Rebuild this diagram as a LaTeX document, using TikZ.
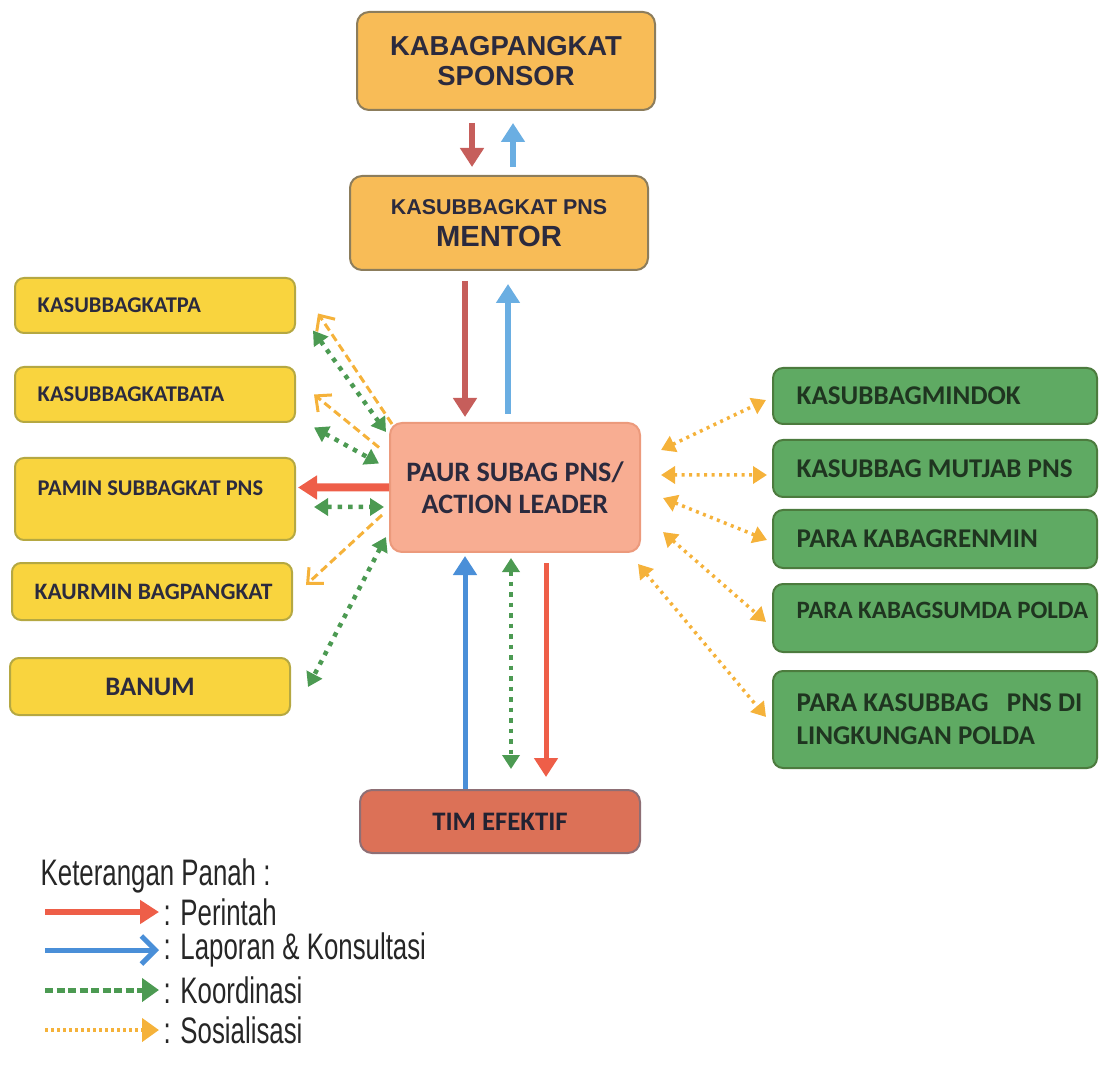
\documentclass[tikz,border=0pt]{standalone}
\usepackage{fontspec}
\newfontfamily\boxfont{Carlito}
\newfontfamily\headfont{Liberation Sans}
\newfontfamily\legfont[FakeStretch=0.7]{Liberation Sans}
\usetikzlibrary{calc,arrows.meta}

\definecolor{sponfill}{HTML}{F8BC57}
\definecolor{sponline}{HTML}{8C7D5C}
\definecolor{leftfill}{HTML}{F9D43E}
\definecolor{leftline}{HTML}{B5A842}
\definecolor{rightfill}{HTML}{5FAA63}
\definecolor{rightline}{HTML}{4C7B3E}
\definecolor{paurfill}{HTML}{F8AD92}
\definecolor{paurline}{HTML}{EC9A7C}
\definecolor{timfill}{HTML}{DC7157}
\definecolor{timline}{HTML}{8E6F75}
\definecolor{redarr}{HTML}{EE5E48}
\definecolor{redtop}{HTML}{C65E5B}
\definecolor{bluearr}{HTML}{4A8FD8}
\definecolor{bluetop}{HTML}{6AAEE2}
\definecolor{greenarr}{HTML}{4C9A52}
\definecolor{orangearr}{HTML}{F5B23A}
\definecolor{txtdark}{HTML}{2B2A3E}
\definecolor{txtgreen}{HTML}{1F3520}

\begin{document}
\begin{tikzpicture}[x=0.1mm, y=-0.1mm,
  box/.style={draw, rounded corners=1.2mm, line width=0.2mm, inner sep=0pt, align=center},
  topbox/.style={box, fill=sponfill, draw=sponline, minimum width=29.8mm, text=txtdark,
    font=\headfont\bfseries},
  leftbox/.style={box, fill=leftfill, draw=leftline, rounded corners=0.9mm, minimum width=28mm},
  lefttext/.style={anchor=west, xshift=2.3mm, inner sep=0pt, align=left, text=txtdark,
    font=\boxfont\bfseries\fontsize{6.4}{9}\selectfont},
  rightbox/.style={box, fill=rightfill, draw=rightline, rounded corners=1mm, minimum width=32.4mm},
  righttext/.style={anchor=west, xshift=2.4mm, inner sep=0pt, align=left, text=txtgreen,
    font=\boxfont\bfseries\fontsize{7.7}{9.4}\selectfont},
  perintah/.style={draw=redarr, line width=0.6mm, -{Triangle[length=1.9mm,width=2.3mm]}},
  laporan/.style={draw=bluearr, line width=0.6mm, -{Triangle[length=1.9mm,width=2.3mm]}},
  koord/.style={draw=greenarr, line width=0.45mm, dash pattern=on 0.45mm off 0.6mm,
    {Triangle[length=1.4mm,width=1.7mm]}-{Triangle[length=1.4mm,width=1.7mm]}},
  sosial/.style={draw=orangearr, line width=0.35mm, dash pattern=on 0.3mm off 0.45mm,
    {Triangle[length=1.4mm,width=1.7mm]}-{Triangle[length=1.4mm,width=1.7mm]}},
  sosdash/.style={draw=orangearr, line width=0.3mm, dash pattern=on 0.8mm off 0.45mm,
    -{Straight Barb[length=1.2mm,width=2.2mm]}},
  legtext/.style={anchor=west, inner sep=0pt, text=black!85, font=\legfont\fontsize{10.5}{12}\selectfont}]

  \useasboundingbox (0,0) rectangle (1100,1071);

  % sponsor and mentor
  \node[topbox, minimum height=9.8mm, font=\headfont\bfseries\fontsize{7.8}{8.4}\selectfont]
    (spon) at (506,61) {KABAGPANGKAT\\SPONSOR};
  \node[topbox, minimum height=9.4mm] (ment) at (499,223)
    {\fontsize{6.1}{8}\selectfont KASUBBAGKAT PNS\\[-2.8pt]\fontsize{8.3}{9}\selectfont MENTOR};

  % action leader and team
  \node[box, fill=paurfill, draw=paurline, minimum width=25mm, minimum height=12.9mm,
    text=txtdark, font=\boxfont\bfseries\fontsize{8}{9.1}\selectfont]
    (paur) at (515,487.5) {PAUR SUBAG PNS/\\ACTION LEADER};
  \node[box, fill=timfill, draw=timline, minimum width=28mm, minimum height=6.3mm,
    text=txtdark!80!black, font=\boxfont\bfseries\fontsize{7.6}{9}\selectfont]
    (tim) at (500,821.5) {TIM EFEKTIF};

  % left column
  \node[leftbox, minimum height=5.5mm, label={[lefttext]west:KASUBBAGKATPA}] (katpa) at (155,305.5) {};
  \node[leftbox, minimum height=5.5mm, label={[lefttext]west:KASUBBAGKATBATA}] (katbata) at (155,394.5) {};
  \node[leftbox, minimum height=8.2mm, label={[lefttext, yshift=1.1mm]west:PAMIN SUBBAGKAT PNS}]
    (pamin) at (155,499) {};
  \node[leftbox, minimum height=5.7mm,
    label={[lefttext, font=\boxfont\bfseries\fontsize{6.7}{9}\selectfont]west:KAURMIN BAGPANGKAT}]
    (kaurmin) at (152,591.5) {};
  \node[leftbox, minimum height=5.7mm, text=txtdark, font=\boxfont\bfseries\fontsize{7.6}{9}\selectfont]
    (banum) at (150,686.5) {BANUM};

  % right column
  \node[rightbox, minimum height=5.6mm, label={[righttext]west:KASUBBAGMINDOK}] (mindok) at (935,396) {};
  \node[rightbox, minimum height=5.7mm, label={[righttext]west:KASUBBAG MUTJAB PNS}] (mutjab) at (935,468.5) {};
  \node[rightbox, minimum height=5.8mm, label={[righttext]west:PARA KABAGRENMIN}] (renmin) at (935,539) {};
  \node[rightbox, minimum height=6.8mm,
    label={[righttext, yshift=0.8mm, font=\boxfont\bfseries\fontsize{7.1}{9}\selectfont]west:PARA KABAGSUMDA POLDA}]
    (sumda) at (935,618) {};
  \node[rightbox, minimum height=9.7mm,
    label={[righttext]west:{PARA KASUBBAG\ \ \ PNS DI\\LINGKUNGAN POLDA}}] (lingk) at (935,719.5) {};

  % vertical chain
  \draw[perintah, draw=redtop, line width=0.55mm] ($(spon.south)+(-34,12)$) -- ($(ment.north)+(-27,-8)$);
  \draw[laporan, draw=bluetop, line width=0.55mm] ($(ment.north)+(14,-8)$) -- ($(spon.south)+(7,12)$);
  \draw[perintah, draw=redtop, line width=0.55mm] ($(ment.south)+(-34,10)$) -- ($(paur.north)+(-50,-5)$);
  \draw[laporan, draw=bluetop, line width=0.55mm] ($(paur.north)+(-7,-8)$) -- ($(ment.south)+(9,13)$);

  % action leader <-> team
  \draw[laporan, line width=0.5mm] ($(tim.north)+(-35,0)$) -- ($(paur.south)+(-50,3)$);
  \draw[koord] ($(paur.south)+(-4,5)$) -- ($(tim.north)+(11,-20)$);
  \draw[perintah, line width=0.5mm] ($(paur.south)+(31,10)$) -- ($(tim.north)+(46,-12)$);

  % left side
  \draw[sosdash] ($(paur.north west)+(3,2)$) -- ($(katpa.east)+(22,8)$);
  \draw[koord] ($(katpa.east)+(17,25)$) -- ($(paur.north west)+(-3,10)$);
  \draw[sosdash] ($(paur.west)+(-10,-40)$) -- ($(katbata.east)+(18,0)$);
  \draw[koord] ($(katbata.east)+(18,33)$) -- ($(paur.west)+(-10,-24)$);
  \draw[perintah, line width=0.8mm] (paur.west) -- ($(pamin.east)+(2,-11.5)$);
  \draw[koord] ($(pamin.east)+(18,8)$) -- ($(paur.west)+(-5,19.5)$);
  \draw[sosdash] ($(paur.west)+(-7,27.5)$) -- ($(kaurmin.east)+(13,-6.5)$);
  \draw[koord] ($(paur.west)+(-3,49.5)$) -- ($(banum.east)+(17,0.5)$);

  % right side
  \draw[sosial] ($(paur.east)+(20,-37.5)$) -- ($(mindok.west)+(-6,4)$);
  \draw[sosial] ($(paur.east)+(20,-12.5)$) -- ($(mutjab.west)+(-5,6.5)$);
  \draw[sosial] ($(paur.east)+(22,10.5)$) -- ($(renmin.west)+(-5,1)$);
  \draw[sosial] ($(paur.east)+(22,44.5)$) -- ($(sumda.west)+(-6,4)$);
  \draw[sosial] ($(paur.south east)+(-3,11)$) -- ($(lingk.west)+(-6,-2.5)$);

  % ---- legend ----
  \node[legtext] (leg) at (40,876) {Keterangan Panah :};
  \node[legtext] (lperintah) at (163,912) {: Perintah};
  \node[legtext] (llaporan) at (163,950) {: Laporan \& Konsultasi};
  \node[legtext] (lkoord) at (163,990) {: Koordinasi};
  \node[legtext] (lsosial) at (163,1030) {: Sosialisasi};
  \draw[perintah, line width=0.55mm] ($(lperintah.west)+(-118,0)$) -- ($(lperintah.west)+(-4,0)$);
  \draw[draw=bluearr, line width=0.5mm, -{Straight Barb[length=1.4mm,width=2.8mm]}]
    ($(llaporan.west)+(-118,0)$) -- ($(llaporan.west)+(-4,0)$);
  \draw[draw=greenarr, line width=0.5mm, dash pattern=on 0.8mm off 0.35mm,
    -{Triangle[length=1.7mm,width=2.3mm]}] ($(lkoord.west)+(-118,0)$) -- ($(lkoord.west)+(-4,0)$);
  \draw[draw=orangearr, line width=0.45mm, dash pattern=on 0.3mm off 0.3mm,
    -{Triangle[length=1.7mm,width=2.3mm]}] ($(lsosial.west)+(-118,0)$) -- ($(lsosial.west)+(-4,0)$);
\end{tikzpicture}
\end{document}
